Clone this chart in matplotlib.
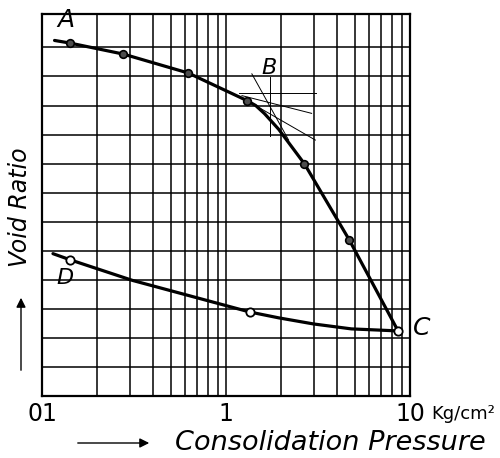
import matplotlib
matplotlib.use("Agg")
import matplotlib.pyplot as plt

# consolidation pressure (kg/cm2) and void ratio (grid units) for the loading branch A-B-C
load_p = [0.117, 0.142, 0.277, 0.623, 1.30, 1.45, 1.62, 1.934, 2.67, 4.68, 8.61]
load_e = [12.24, 12.15, 11.77, 11.12, 10.17, 10.00, 9.72, 9.18, 7.99, 5.37, 2.24]
load_pts_p = [0.142, 0.277, 0.623, 1.30, 2.67, 4.68]
load_pts_e = [12.15, 11.77, 11.12, 10.17, 7.99, 5.37]

# rebound branch D-C
unload_p = [0.1147, 0.142, 0.310, 1.349, 1.934, 2.99, 4.80, 8.61]
unload_e = [4.90, 4.69, 3.98, 2.89, 2.69, 2.48, 2.31, 2.24]
unload_pts_p = [0.142, 1.349, 8.61]
unload_pts_e = [4.69, 2.89, 2.24]

# Casagrande construction around B
horiz_p, horiz_e = [1.175, 3.10], [10.44, 10.44]
bisect_p, bisect_e = [1.221, 2.92], [10.34, 9.73]
tangent_p, tangent_e = [1.299, 3.06], [10.17, 8.81]
virgin_p, virgin_e = [1.382, 2.19], [11.09, 8.81]
vert_p, vert_e = [1.729, 1.729], [10.99, 8.95]

grid_x = [0.2, 0.3, 0.4, 0.5, 0.6, 0.7, 0.8, 0.9, 1, 2, 3, 4, 5, 6, 7, 8, 9]
grid_y = list(range(1, 13))
tick_vals = [0.1, 1, 10]
tick_text = ["01", "1", "10"]

hand = dict(family="DejaVu Sans", style="italic")

fig = plt.figure(figsize=(5.0, 4.58), dpi=100)
ax = fig.add_axes([0.084, 0.1354, 0.736, 0.834])
ax.set_xscale("log")
ax.set_xlim(0.1, 10)
ax.set_ylim(0, 13.15)

for gx in grid_x:
    ax.axvline(gx, color="black", lw=1.1, zorder=1)
for gy in grid_y:
    ax.axhline(gy, color="black", lw=1.1, zorder=1)
for sp in ax.spines.values():
    sp.set_linewidth(1.6)

ax.set_xticks([])
ax.set_xticks([], minor=True)
ax.set_yticks([])

# construction lines
for px, py in [(horiz_p, horiz_e), (bisect_p, bisect_e), (tangent_p, tangent_e),
               (virgin_p, virgin_e), (vert_p, vert_e)]:
    ax.plot(px, py, color="black", lw=0.7, zorder=2)

ax.plot(load_p, load_e, color="black", lw=2.3, zorder=3,
        solid_capstyle="round", solid_joinstyle="round")
ax.plot(load_pts_p, load_pts_e, "o", ms=5.5, mfc="0.3", mec="black", mew=1.2, zorder=4)
ax.plot(unload_p, unload_e, color="black", lw=2.3, zorder=3,
        solid_capstyle="round", solid_joinstyle="round")
ax.plot(unload_pts_p, unload_pts_e, "o", ms=6, mfc="white", mec="black", mew=1.3, zorder=4)

# point letters
ax.text(0.1348, 12.93, "A", fontsize=18, ha="center", va="center", clip_on=False, **hand)
ax.text(1.71, 11.3, "B", fontsize=16, ha="center", va="center", **hand)
ax.text(11.6, 2.35, "C", fontsize=18, ha="center", va="center", clip_on=False, **hand)
ax.text(0.1332, 4.05, "D", fontsize=16, ha="center", va="center", **hand)

# axis numbers
xt = ax.get_xaxis_transform()
for v, s in zip(tick_vals, tick_text):
    ax.text(v, -0.047, s, transform=xt, fontsize=17, ha="center", va="center", clip_on=False)
ax.text(12.99, -0.047, "Kg/cm²", transform=xt, fontsize=13, ha="left", va="center", clip_on=False)

fig.text(0.35, 0.033, "Consolidation Pressure", fontsize=19.5, ha="left", va="center", **hand)
fig.text(0.04, 0.548, "Void Ratio", fontsize=17, ha="center", va="center", rotation=90, **hand)

arrow = dict(arrowstyle="-|>", color="black", lw=1.0, mutation_scale=14)
fig.patches.append(matplotlib.patches.FancyArrowPatch(
    (75 / 500, 1 - 443 / 458), (152 / 500, 1 - 443 / 458), transform=fig.transFigure, **arrow))
fig.patches.append(matplotlib.patches.FancyArrowPatch(
    (21 / 500, 1 - 373 / 458), (21 / 500, 1 - 295 / 458), transform=fig.transFigure, **arrow))

fig.savefig("out.png", dpi=100, facecolor="white")
